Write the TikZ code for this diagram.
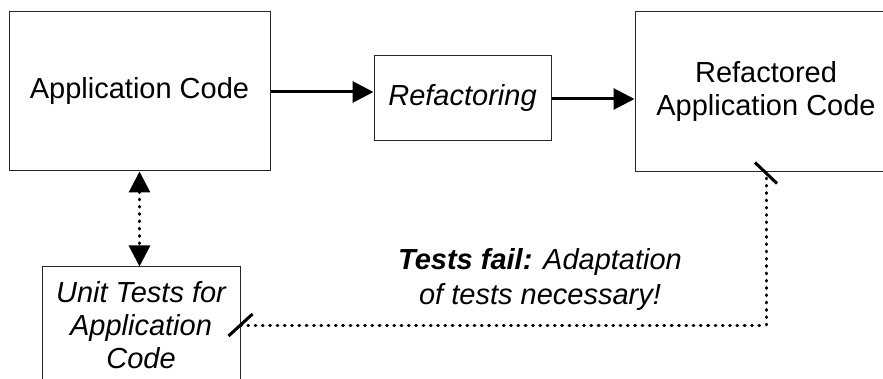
\documentclass[tikz,border=0pt]{standalone}
\usepackage{fontspec}
\setmainfont{Liberation Sans}
\usetikzlibrary{arrows.meta}
\begin{document}
\begin{tikzpicture}[x=1pt,y=-1pt,
  box/.style={draw=black!85,line width=1pt,inner sep=0pt,align=center,
    font=\fontsize{29}{33}\selectfont},
  flow/.style={line width=3pt,-{Triangle[length=21pt,width=21pt]}},
  dotline/.style={line width=3pt,line cap=round,dash pattern=on 0.8pt off 6.5pt},
  tick/.style={line width=3pt},
  note/.style={align=center,font=\fontsize{29}{35}\selectfont\itshape}]
\useasboundingbox (0,0) rectangle (883,379);
\clip (0,0) rectangle (883,379);

% boxes
\node[box,minimum width=261pt,minimum height=159pt] (app) at (139.5,91.5) {Application Code};
\node[box,minimum width=177pt,minimum height=85pt] (ref) at (462.5,98.5) {\itshape Refactoring};
\node[box,minimum width=262pt,minimum height=160pt] (refapp) at (766,92) {Refactored\\Application Code};
\node[box,minimum width=198pt,minimum height=116pt] (tests) at (141,325) {\itshape Unit Tests for\\\itshape Application\\\itshape Code};

% refactoring flow
\draw[flow] (app.east |- 0,92) -- (ref.west |- 0,92);
\draw[flow] (ref.east |- 0,99) -- (refapp.west |- 0,99);

% tests belong to the application code
\draw[dotline,{Triangle[length=21pt,width=21pt]}-{Triangle[length=21pt,width=21pt]}]
  (app.south) -- (app.south |- tests.north);

% broken link between the tests and the refactored code
\draw[dotline] (tests.east) -| (refapp.south);
\draw[tick] ([shift={(-12,11)}]tests.east) -- ([shift={(12,-11)}]tests.east);
\draw[tick] ([shift={(-11,-10)}]refapp.south) -- ([shift={(11,11)}]refapp.south);

\node[note] (fail) at (540,280) {{\bfseries Tests fail:} Adaptation\\of tests necessary!};
\end{tikzpicture}
\end{document}
